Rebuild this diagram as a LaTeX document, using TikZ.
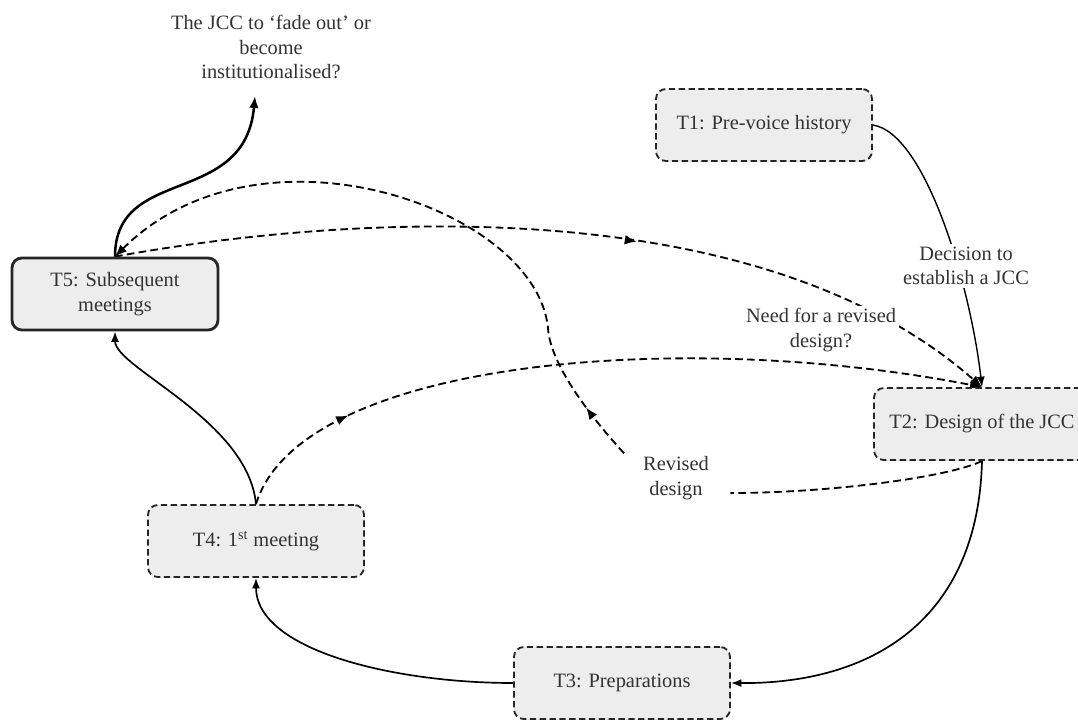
\documentclass[tikz,border=0pt]{standalone}
\usepackage{fontspec}
\setmainfont{Liberation Serif}
\usetikzlibrary{arrows.meta,decorations.markings,backgrounds,shadows}
\begin{document}
\begin{tikzpicture}[
  font=\fontsize{14.5}{17.5}\selectfont,
  stage/.style={draw=black!85, line width=1.3pt, dash pattern=on 4.5pt off 2.5pt,
    rounded corners=7pt, fill=black!7, text=black!80,
    drop shadow={shadow xshift=0.6pt, shadow yshift=-0.6pt, opacity=0.2},
    minimum width=5.4cm, minimum height=1.8cm, align=center},
  lastbox/.style={stage, solid, line width=2pt, minimum width=5.15cm},
  note/.style={fill=white, text=black!80, align=center, inner sep=2pt},
  flow/.style={line width=1pt, -{Latex[length=2.6mm,width=2mm]}},
  loopline/.style={line width=1.3pt, dash pattern=on 5.5pt off 3pt, -{Latex[length=3mm,width=2.4mm]}},
  midarrow/.style={postaction={decorate}, decoration={markings,
    mark=at position #1 with {\arrow{Latex[length=3mm,width=2.4mm]}}}}
]
\useasboundingbox (0,0) rectangle (26.95,-17.975);
% Stages
\node[stage] (t1) at (19.1,-3.125) {T1: Pre-voice history};
\node[stage] (t2) at (24.55,-10.6) {T2: Design of the JCC};
\node[stage] (t3) at (15.55,-17.075) {T3: Preparations};
\node[stage] (t4) at (6.4,-13.525) {T4: 1\textsuperscript{st} meeting};
\node[lastbox] (t5) at (2.875,-7.35) {T5: Subsequent\\meetings};
% Labels
\node[note] (fade) at (6.775,-1.175) {The JCC to `fade out' or\\become\\institutionalised?};
\coordinate (fadeend) at (6.375,-2.4);
\node[note] (decide) at (24.15,-6.65) {Decision to\\establish a JCC};
\node[note] (need) at (20.525,-8.25) {Need for a revised\\design?};
\node[note] (revised) at (16.9,-11.95) {Revised\\design};
\begin{scope}[on background layer]
% Main cycle
\draw[flow] (t1.east) .. controls +(1.3,-0.2) and +(-0.3,2.6) .. (t2.north);
\draw[flow, line width=1.2pt] (t2.south) .. controls (24.45,-15.5) and (21.8,-17.1) .. (t3.east);
\draw[flow, line width=1.2pt] (t3.west) .. controls +(-3,0) and +(0,-1.8) .. (t4.south);
\draw[flow, line width=1.2pt] (t4.north) .. controls (6.2,-10.5) and (2.875,-9.2) .. (t5.south);
\draw[line width=1.8pt, -{Latex[length=3mm,width=2.4mm]}] (t5.north) .. controls +(0,2.3) and +(-0.25,-2.8) .. (fadeend);
% Feedback loops
\draw[loopline, midarrow=0.58] (t5.north) .. controls (9,-5.3) and (19,-4.8) .. (t2.north);
\draw[loopline, midarrow=0.17] (t4.north) .. controls (7.5,-9) and (17,-8.2) .. (t2.north);
\draw[loopline, -] (t2.south) .. controls +(-0.8,-0.4) and +(2.5,0) .. ([shift={(0.46,-0.375)}]revised.east);
\draw[loopline, midarrow=0.09] ([xshift=-0.4cm]revised.north west)
  .. controls (14.75,-10.4) and (13.75,-9.1) .. (13.7,-8.2)
  .. controls (13.4,-5.2) and (6.5,-2.8) .. (t5.north);
\end{scope}
\end{tikzpicture}
\end{document}
